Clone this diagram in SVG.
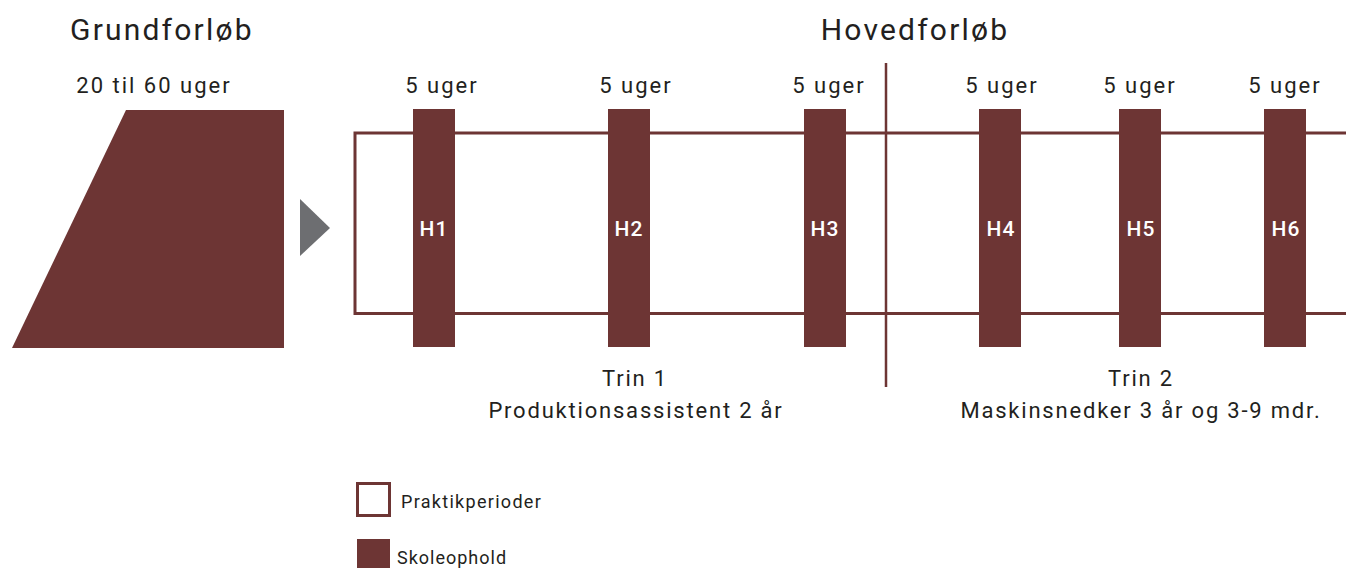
<svg xmlns="http://www.w3.org/2000/svg" width="1346" height="568" viewBox="0 0 1346 568">
<style>
.t{font-family:Roboto,"Liberation Sans",sans-serif;fill:#231f20}
.h{font-size:30px;letter-spacing:2.2px}
.w{font-size:22px;text-anchor:middle;letter-spacing:2px}
.c{font-size:22px;text-anchor:middle;letter-spacing:1.8px}
.bar{fill:#6d3534}
.bl{font-family:Roboto,"Liberation Sans",sans-serif;font-size:21px;fill:#fff;text-anchor:middle;font-weight:500;letter-spacing:1px}
.lg{font-size:18px}
</style>
<rect width="1346" height="568" fill="#fff"/>
<text class="t h" x="70" y="40">Grundforløb</text>
<text class="t h" x="915" y="40" text-anchor="middle">Hovedforløb</text>
<g id="grundforloeb">
<polygon points="126,110 284,110 284,348 12,348" fill="#6d3534"/>
<text class="t w" x="154" y="93">20 til 60 uger</text>
</g>
<g id="connectors">
<polygon points="300,199 330,228 300,256" fill="#6d6e71"/>
<line x1="886" y1="63" x2="886" y2="387" stroke="#6d3534" stroke-width="2.5"/>
</g>
<g id="praktik">
<path d="M1346,133 H355 V313.5 H1346" fill="none" stroke="#6d3534" stroke-width="3"/>
</g>
<g id="H1"><rect class="bar" x="413" y="109" width="42" height="238"/><text class="bl" x="434" y="236">H1</text><text class="t w" x="442" y="93">5 uger</text></g>
<g id="H2"><rect class="bar" x="608" y="109" width="42" height="238"/><text class="bl" x="629" y="236">H2</text><text class="t w" x="636" y="93">5 uger</text></g>
<g id="H3"><rect class="bar" x="804" y="109" width="42" height="238"/><text class="bl" x="825" y="236">H3</text><text class="t w" x="829" y="93">5 uger</text></g>
<g id="H4"><rect class="bar" x="979" y="109" width="42" height="238"/><text class="bl" x="1001" y="236">H4</text><text class="t w" x="1002" y="93">5 uger</text></g>
<g id="H5"><rect class="bar" x="1119" y="109" width="42" height="238"/><text class="bl" x="1141" y="236">H5</text><text class="t w" x="1140" y="93">5 uger</text></g>
<g id="H6"><rect class="bar" x="1264" y="109" width="42" height="238"/><text class="bl" x="1286" y="236">H6</text><text class="t w" x="1285" y="93">5 uger</text></g>
<g id="trin1"><text class="t c" x="635" y="386">Trin 1</text><text class="t c" x="636" y="418">Produktionsassistent 2 år</text></g>
<g id="trin2"><text class="t c" x="1141" y="386">Trin 2</text><text class="t c" x="1141" y="418">Maskinsnedker 3 år og 3-9 mdr.</text></g>
<g id="legend">
<rect x="357.5" y="483.5" width="32" height="32" fill="none" stroke="#6d3534" stroke-width="3"/>
<text class="t lg" x="401" y="508" letter-spacing="1.3">Praktikperioder</text>
<rect x="357" y="539" width="33" height="29" fill="#6d3534"/>
<text class="t lg" x="397" y="564" letter-spacing="1">Skoleophold</text>
</g>
</svg>
